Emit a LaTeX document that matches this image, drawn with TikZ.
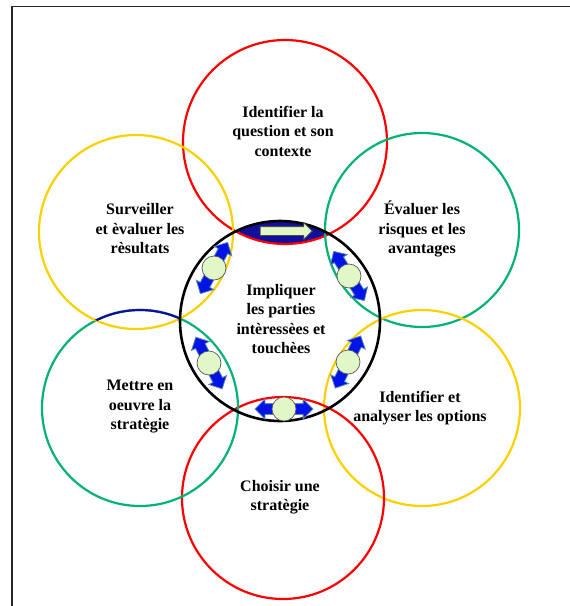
\documentclass[tikz,border=0pt]{standalone}
\usepackage{fontspec}
\setmainfont{Liberation Serif}
\usetikzlibrary{shapes.arrows}
\definecolor{ringred}{HTML}{FF0000}
\definecolor{ringgreen}{HTML}{00B277}
\definecolor{ringyellow}{HTML}{FFD000}
\definecolor{lensnavy}{HTML}{10109C}
\definecolor{arrowblue}{HTML}{0014E6}
\definecolor{arrowedge}{HTML}{5E8CB0}
\definecolor{hubgreen}{HTML}{E2F7C8}

\begin{document}
\begin{tikzpicture}[x=1pt, y=-1pt,
  ring/.style={line width=2.2pt},
  lbl/.style={font=\bfseries\fontsize{16}{19.5}\selectfont, align=center, inner sep=0pt},
  swap/.style={double arrow, fill=arrowblue, draw=arrowedge, line width=0.8pt, minimum height=58pt, minimum width=1pt, inner xsep=0pt, inner ysep=5pt, double arrow head extend=4.5pt},
  hub/.style={circle, fill=hubgreen, draw=black!65, line width=0.7pt, minimum size=24pt, inner sep=0pt}]
  \useasboundingbox (0,0) rectangle (570,606);
  \draw[line width=1.4pt, black!85] (12,606) -- (12,6.5) -- (570,6.5);

  \coordinate (centre) at (280,321);
  \coordinate (ident) at (285,142);
  \coordinate (risk) at (422,230);
  \coordinate (options) at (422,408);
  \coordinate (choose) at (283,498);
  \coordinate (deploy) at (140,408);
  \coordinate (monitor) at (136,232);

  % lens on top
  \begin{scope}
    \clip (centre) circle (100pt);
    \fill[lensnavy] (ident) circle (102pt);
  \end{scope}

  \draw[ring, ringred] (ident) circle (102pt);
  \draw[ring, ringgreen] (risk) circle (97pt);
  \draw[ring, ringyellow] (options) circle (98pt);
  \draw[ring, ringred] (choose) circle (101pt);
  \draw[ring, ringgreen] (deploy) circle (98pt);
  \draw[ring, ringyellow] (monitor) circle (97pt);
  \begin{scope}
    \clip (monitor) circle (97pt);
    \draw[ring, lensnavy] (deploy) circle (98pt);
  \end{scope}
  \draw[line width=2.6pt] (centre) circle (100pt);

  % arrows in the lenses
  \node[single arrow, fill=hubgreen, draw=black!70, line width=0.8pt, minimum height=52pt, minimum width=1pt, inner xsep=0pt, inner ysep=4pt, single arrow head extend=4pt] (flow) at (284,231) {};
  \node[swap, rotate=122] (swapRT) at (349,276) {};
  \node[hub] (hubRT) at (swapRT) {};
  \node[swap, rotate=64] (swapRB) at (348,362) {};
  \node[hub] (hubRB) at (swapRB) {};
  \node[swap] (swapB) at (284,409) {};
  \node[hub] (hubB) at (swapB) {};
  \node[swap, rotate=117] (swapLB) at (209,363) {};
  \node[hub] (hubLB) at (swapLB) {};
  \node[swap, rotate=62] (swapLT) at (214,268) {};
  \node[hub] (hubLT) at (swapLT) {};

  \node[lbl] (identtext) at (283,131) {Identifier la\\question et son\\contexte};
  \node[lbl] (risktext) at (422,229) {Évaluer les\\risques et les\\avantages};
  \node[lbl] (optionstext) at (420,408) {Identifier et\\analyser les options};
  \node[lbl] (choosetext) at (280,497) {Choisir une\\stratègie};
  \node[lbl] (deploytext) at (140,407) {Mettre en\\oeuvre la\\stratègie};
  \node[lbl] (monitortext) at (140,229) {Surveiller\\et èvaluer les\\rèsultats};
  \node[lbl] (centretext) at (281,319) {Impliquer\\les parties\\intèressèes et\\touchèes};
\end{tikzpicture}
\end{document}
